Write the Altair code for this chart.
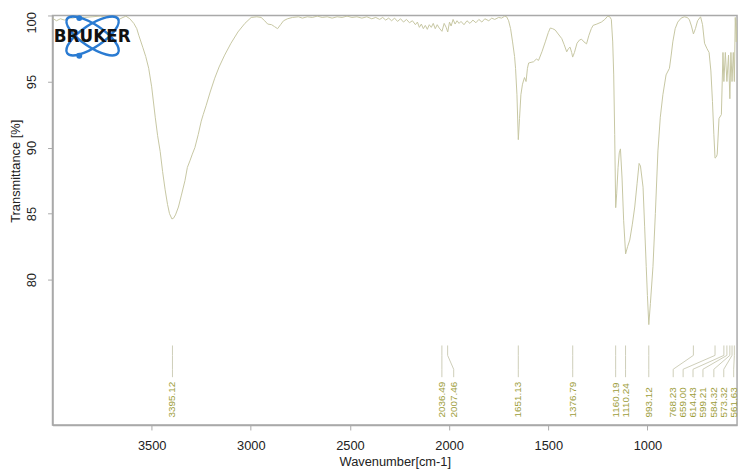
import altair as alt
import pandas as pd

# ---- spectrum ----
wavenumber = [
    4000, 3980, 3960, 3940, 3920, 3900, 3870, 3840, 3800, 3760, 3720, 3690, 3665, 3645, 3630, 3610,
    3590, 3575, 3565, 3545, 3530, 3515, 3500, 3482, 3470, 3457, 3445, 3432, 3420, 3410, 3398, 3390,
    3380, 3365, 3350, 3332, 3320, 3307, 3295, 3282, 3265, 3250, 3240, 3225, 3205, 3182, 3160, 3132,
    3100, 3065, 3030, 2998, 2970, 2948, 2930, 2915, 2895, 2880, 2865, 2850, 2835, 2815, 2790, 2760,
    2740, 2715, 2690, 2665, 2640, 2615, 2590, 2565, 2540, 2515, 2490, 2465, 2440, 2415, 2390, 2370,
    2350, 2335, 2320, 2305, 2290, 2275, 2260, 2245, 2230, 2215, 2200, 2185, 2170, 2160, 2150, 2140,
    2130, 2120, 2110, 2100, 2090, 2080, 2070, 2060, 2050, 2036, 2025, 2015, 2007, 1998, 1990, 1980,
    1970, 1960, 1950, 1940, 1925, 1910, 1895, 1880, 1865, 1850, 1835, 1820, 1800, 1785, 1770, 1750,
    1735, 1720, 1710, 1700, 1690, 1680, 1670, 1665, 1658, 1651, 1645, 1638, 1630, 1620, 1612, 1605,
    1599, 1587, 1574, 1560, 1549, 1532, 1515, 1500, 1490, 1478, 1465, 1450, 1432, 1420, 1407, 1398,
    1390, 1382, 1377, 1368, 1355, 1342, 1332, 1320, 1307, 1295, 1283, 1274, 1255, 1232, 1215, 1200,
    1190, 1182, 1175, 1170, 1165, 1160, 1155, 1148, 1142, 1136, 1128, 1120, 1110, 1100, 1089, 1076,
    1064, 1052, 1042, 1035, 1022, 1014, 1006, 1000, 993, 985, 972, 960, 947, 935, 922, 906,
    889, 880, 872, 860, 847, 830, 814, 800, 789, 778, 768, 758, 747, 732, 722, 712,
    700, 689, 680, 672, 665, 659, 652, 648, 639, 627, 619, 614.4, 607, 599.2, 591, 584.3,
    579, 573.3, 567, 561.6, 557, 552, 548,
]
transmittance = [
    99.8, 99.6, 99.75, 99.65, 99.85, 99.8, 99.9, 99.85, 99.9, 99.95, 99.85, 99.9, 99.7, 99.85, 99.95, 99.75,
    99.4, 99.0, 98.5, 97.6, 96.9, 96.0, 94.6, 92.3, 90.9, 89.7, 88.2, 86.8, 85.7, 85.0, 84.6, 84.65,
    84.9, 85.5, 86.4, 87.5, 88.5, 89.0, 89.5, 90.0, 91.0, 92.0, 92.5, 93.2, 94.2, 95.25, 96.1, 97.0,
    97.9, 98.75, 99.4, 99.85, 99.9, 99.85, 99.6, 99.35, 99.3, 99.15, 99.0, 99.3, 99.6, 99.75, 99.85, 99.9,
    99.8, 99.9, 99.85, 99.95, 99.85, 99.9, 99.8, 99.9, 99.85, 99.95, 99.85, 99.9, 99.8, 99.9, 99.75, 99.85,
    99.7, 99.85, 99.65, 99.8, 99.6, 99.8, 99.55, 99.75, 99.5, 99.7, 99.45, 99.6, 99.3, 99.5, 99.1, 99.35,
    99.0, 99.25, 98.95, 99.3, 99.1, 99.4, 99.0, 99.3, 99.05, 98.8, 99.4, 99.1, 98.75, 99.5, 99.2, 99.7,
    99.35, 99.6, 99.4, 99.55, 99.3, 99.6, 99.4, 99.65, 99.45, 99.7, 99.5, 99.75, 99.6, 99.8, 99.7, 99.85,
    99.8, 99.95, 99.9, 99.6, 99.0, 98.0, 96.9, 96.0, 94.0, 90.6, 92.2, 94.0, 94.8, 95.3, 95.0, 96.0,
    96.4, 96.45, 96.5, 96.7, 96.6, 97.25, 98.0, 98.7, 99.05, 99.0, 98.9, 98.6, 98.25, 97.8, 97.25, 97.5,
    97.6, 97.2, 96.85, 97.2, 97.9, 98.15, 98.2, 98.0, 97.85, 98.5, 99.0, 99.25, 99.35, 99.5, 99.7, 99.95,
    99.9, 99.7, 98.0, 95.5, 91.0, 85.45, 86.5, 88.5, 89.6, 89.9, 87.7, 84.5, 81.95, 82.5, 83.0, 84.2,
    85.5, 87.3, 88.8, 88.6, 87.0, 84.0, 81.0, 78.8, 76.6, 78.2, 81.0, 85.0, 89.75, 92.3, 94.0, 95.5,
    96.0, 97.0, 98.0, 99.0, 99.5, 99.8, 99.9, 99.85, 99.7, 99.2, 98.6, 99.0, 99.6, 99.9, 99.3, 97.9,
    97.5, 97.2, 95.8, 93.5, 91.0, 89.2, 89.3, 89.5, 92.2, 92.5, 97.2, 95.0, 97.2, 95.0, 97.0, 93.7,
    97.2, 95.0, 97.2, 95.0, 99.85, 98.0, 99.7,
]

# ---- peak annotations ----
peak_positions = [3395.12, 2036.49, 2007.46, 1651.13, 1376.79, 1160.19, 1110.24, 993.12,
                  768.23, 659.00, 614.43, 599.21, 584.32, 573.32, 561.63]
peak_texts = ["3395.12", "2036.49", "2007.46", "1651.13", "1376.79", "1160.19", "1110.24", "993.12",
              "768.23", "659.00", "614.43", "599.21", "584.32", "573.32", "561.63"]
label_positions = [3395.12, 2036.49, 1977, 1651.13, 1376.79, 1160.19, 1110.24, 993.12,
                   870, 820, 770, 720, 665, 615, 565]
leader_levels = [75.02, 74.27, 73.22, 72.62]
label_base = 69.57

# ---- logo (placed in data units) ----
logo_ring_wn = [3798, 3798]
logo_ring_t = [98.45, 98.45]
logo_ring_tilt = [34, 326]
logo_dot_wn = [3865, 3865]
logo_dot_t = [99.8, 96.95]
logo_text_wn = [3800]
logo_text_t = [98.33]

spec = pd.DataFrame({"wn": wavenumber, "T": transmittance})

rows = []
for i, (p, lx) in enumerate(zip(peak_positions, label_positions)):
    pts = [p, p, lx, lx]
    for k in range(4):
        rows.append({"peak": i, "step": k, "wn": pts[k], "T": leader_levels[k]})
leaders = pd.DataFrame(rows)
labels = pd.DataFrame({"wn": label_positions, "T": [label_base] * len(label_positions), "txt": peak_texts})
rings = pd.DataFrame({"wn": logo_ring_wn, "T": logo_ring_t, "tilt": logo_ring_tilt})
dots = pd.DataFrame({"wn": logo_dot_wn, "T": logo_dot_t})
logo_txt = pd.DataFrame({"wn": logo_text_wn, "T": logo_text_t, "txt": ["BRUKER"]})

FONT = "Liberation Sans"
X = alt.X("wn:Q",
          scale=alt.Scale(domain=[548, 4000], reverse=True, nice=False, zero=False),
          axis=alt.Axis(values=[3500, 3000, 2500, 2000, 1500, 1000], title="Wavenumber[cm-1]",
                        format="d", tickSize=5, labelPadding=10, titlePadding=3))
Y = alt.Y("T:Q",
          scale=alt.Scale(domain=[69, 100], nice=False, zero=False),
          axis=alt.Axis(values=[80, 85, 90, 95, 100], title="Transmittance [%]",
                        labelAngle=270, tickSize=5, labelPadding=9,
                        labelOffset={"expr": "datum.value == 100 ? 7 : 0"},
                        titleAngle=270, titleX=-37, titleY=157, titleBaseline="middle"))

line = alt.Chart(spec).mark_line(color="#c6c6a2", strokeWidth=1, clip=True).encode(
    x=X, y=Y, order=alt.Order("wn:Q", sort="descending"))

lead = alt.Chart(leaders).mark_line(color="#cdcdb8", strokeWidth=1).encode(
    x=X, y=Y, detail="peak:N", order="step:Q")

txt = alt.Chart(labels).mark_text(angle=270, align="left", baseline="middle",
                                  font=FONT, fontSize=10, color="#9d9d3a").encode(
    x=X, y=Y, text="txt:N")

ellipse_path = "M -1 0 A 1 0.36 0 1 1 1 0 A 1 0.36 0 1 1 -1 0 Z"
ring = alt.Chart(rings).mark_point(shape=ellipse_path, filled=False, color="#2a7bd2",
                                   strokeWidth=2.5, size=3844, opacity=1).encode(
    x=X, y=Y, angle=alt.Angle("tilt:Q", scale=None))

dot = alt.Chart(dots).mark_point(shape="circle", filled=True, color="#2a7bd2", size=36, opacity=1).encode(
    x=X, y=Y)

brand = alt.Chart(logo_txt).mark_text(font="DejaVu Sans", fontWeight="bold", fontSize=17,
                                      color="#111111", align="center", baseline="middle").encode(
    x=X, y=Y, text="txt:N")

chart = alt.layer(line, lead, txt, ring, dot, brand).properties(
    width=692, height=414, autosize="none",
    padding={"left": 45, "top": 5, "right": 5, "bottom": 49},
).configure_view(stroke="#a9a9a9", strokeWidth=1.5).configure_axis(
    grid=False, domainColor="#a9a9a9", domainWidth=1.5, tickColor="#a9a9a9",
    labelColor="#222222", titleColor="#222222", labelFont=FONT, titleFont=FONT,
    labelFontSize=13, titleFontSize=13, titleFontWeight="normal",
)

chart.save("out.html", embed_options={"renderer": "svg", "actions": False})
